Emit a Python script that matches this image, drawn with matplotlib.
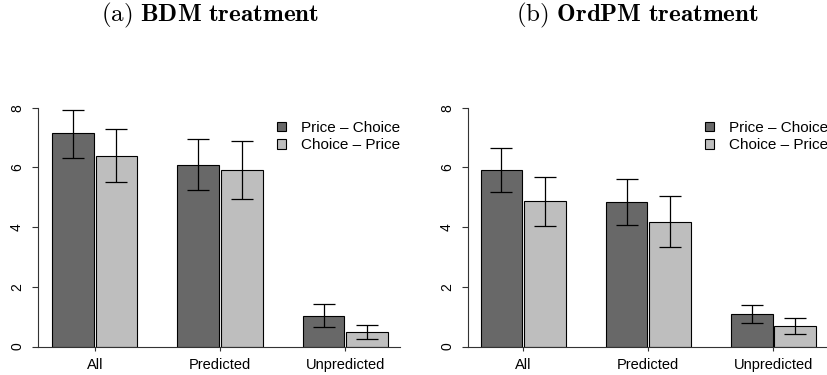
import numpy as np
import matplotlib
matplotlib.use("Agg")
import matplotlib.pyplot as plt
from matplotlib.patches import Patch

plt.rcParams['font.family'] = ['Liberation Sans', 'DejaVu Sans']
plt.rcParams['mathtext.fontset'] = 'cm'

categories = ["All", "Predicted", "Unpredicted"]
series_names = ["Price \u2013 Choice", "Choice \u2013 Price"]
colors = ["#686868", "#bebebe"]

# (a) BDM treatment
bdm_pc = [7.14, 6.09, 1.02]
bdm_pc_lo = [6.33, 5.23, 0.64]
bdm_pc_hi = [7.92, 6.96, 1.41]
bdm_cp = [6.39, 5.91, 0.48]
bdm_cp_lo = [5.50, 4.94, 0.26]
bdm_cp_hi = [7.29, 6.87, 0.72]

# (b) OrdPM treatment
ord_pc = [5.92, 4.83, 1.08]
ord_pc_lo = [5.19, 4.06, 0.78]
ord_pc_hi = [6.65, 5.60, 1.38]
ord_cp = [4.86, 4.18, 0.68]
ord_cp_lo = [4.05, 3.33, 0.41]
ord_cp_hi = [5.69, 5.04, 0.94]

titles = [r"$\mathrm{(a)}\ \mathbf{BDM\ treatment}$",
          r"$\mathrm{(b)}\ \mathbf{OrdPM\ treatment}$"]

W, H = 828, 375
fig = plt.figure(figsize=(W / 100, H / 100), dpi=100)


def px_axes(left, right, top, bottom):
    return fig.add_axes([left / W, 1 - bottom / H, (right - left) / W, (bottom - top) / H])


def panel(ax, pc, pc_lo, pc_hi, cp, cp_lo, cp_hi, xlim):
    centers = 2 + 3 * np.arange(len(categories))
    off = 0.52
    data = [(pc, pc_lo, pc_hi), (cp, cp_lo, cp_hi)]
    for k, (v, lo, hi) in enumerate(data):
        x = centers + (off if k else -off)
        v = np.array(v)
        yerr = [v - np.array(lo), np.array(hi) - v]
        ax.bar(x, v, width=1.0, color=colors[k], edgecolor="black", linewidth=0.8, zorder=2)
        ax.errorbar(x, v, yerr=yerr, fmt="none", ecolor="black", elinewidth=0.9,
                    capsize=7.8, capthick=0.9, zorder=3)
    ax.set_xlim(*xlim)
    ax.set_ylim(0, 8.5)
    ax.set_xticks(centers)
    ax.set_xticklabels(categories, fontsize=10.5)
    ax.set_yticks([0, 2, 4, 6, 8])
    ax.set_yticklabels(["0", "2", "4", "6", "8"], fontsize=10, rotation=90, va="center")
    ax.tick_params(axis="y", length=4, width=0.8, pad=6, color="#333333")
    ax.tick_params(axis="x", length=3, width=0.8, pad=5, color="#333333")
    for s in ["top", "right"]:
        ax.spines[s].set_visible(False)
    ax.spines["left"].set_bounds(0, 8)
    for s in ["left", "bottom"]:
        ax.spines[s].set_color("#333333")
        ax.spines[s].set_linewidth(0.8)
    handles = [Patch(facecolor=colors[i], edgecolor="black", linewidth=0.8) for i in range(2)]
    ax.legend(handles, series_names, loc="upper right", bbox_to_anchor=(1.0, 0.89),
              frameon=False, fontsize=11, handlelength=0.6, handleheight=0.55,
              handletextpad=0.95, labelspacing=0.24, borderpad=0, borderaxespad=0)


ax1 = px_axes(38, 400, 92.8, 346.5)
panel(ax1, bdm_pc, bdm_pc_lo, bdm_pc_hi, bdm_cp, bdm_cp_lo, bdm_cp_hi, (0.64, 9.31))
ax2 = px_axes(468, 828, 92.8, 346.5)
panel(ax2, ord_pc, ord_pc_lo, ord_pc_hi, ord_cp, ord_cp_lo, ord_cp_hi, (0.68, 9.31))

fig.text(210 / W, 1 - 21 / H, titles[0], ha="center", va="baseline", fontsize=18)
fig.text(637 / W, 1 - 21 / H, titles[1], ha="center", va="baseline", fontsize=18)

fig.savefig("out.png", dpi=100)
